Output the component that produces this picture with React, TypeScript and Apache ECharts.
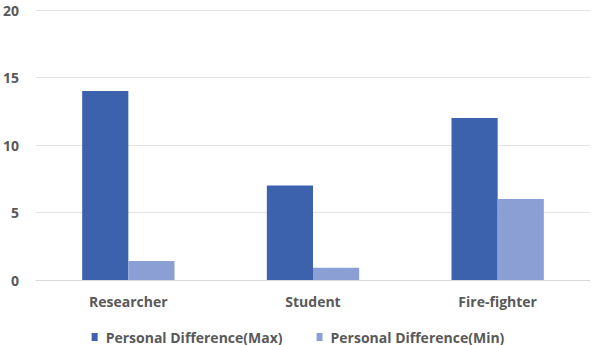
import React, { useEffect, useRef } from "react";
import * as echarts from "echarts";

const categories = ["Researcher", "Student", "Fire-fighter"];
const seriesNames = ["Personal Difference(Max)", "Personal Difference(Min)"];
const maxValues = [14, 7, 12];
const minValues = [1.4, 0.9, 6];
const yTicks = { min: 0, max: 20, interval: 5 };

export default function App() {
  const ref = useRef<HTMLDivElement>(null);
  useEffect(() => {
    const chart = echarts.init(ref.current!, null, { renderer: "svg" });
    const font = "'Open Sans', sans-serif";
    chart.setOption({
      animation: false,
      textStyle: { fontFamily: font },
      grid: { left: 32, right: 6, top: 10, bottom: 65, containLabel: false },
      legend: {
        top: 325,
        left: "center",
        itemWidth: 6,
        itemHeight: 8,
        itemGap: 34,
        icon: "rect",
        textStyle: {
          color: "#595959",
          fontSize: 14,
          fontWeight: "bold",
          fontFamily: font,
          padding: [0, 0, 0, 3],
        },
        data: seriesNames,
      },
      xAxis: {
        type: "category",
        data: categories,
        axisLine: { show: true, lineStyle: { color: "#d9d9d9" } },
        axisTick: { show: false },
        axisLabel: { color: "#595959", fontSize: 14, fontWeight: "bold", margin: 14, fontFamily: font },
      },
      yAxis: {
        type: "value",
        min: yTicks.min,
        max: yTicks.max,
        interval: yTicks.interval,
        axisLine: { show: false },
        axisTick: { show: false },
        splitLine: { lineStyle: { color: "#e3e3e3", width: 1 } },
        axisLabel: { color: "#595959", fontSize: 14, fontWeight: "bold", margin: 17, fontFamily: font },
      },
      series: [
        {
          name: seriesNames[0],
          type: "bar",
          data: maxValues,
          barGap: "0%",
          barCategoryGap: "50%",
          itemStyle: { color: "#3c62ae" },
        },
        {
          name: seriesNames[1],
          type: "bar",
          data: minValues,
          itemStyle: { color: "#8b9fd4" },
        },
      ],
    });
    return () => chart.dispose();
  }, []);
  return (
    <div
      ref={ref}
      style={{ width: 596, height: 345, position: "absolute", left: 0, top: 0 }}
    />
  );
}
